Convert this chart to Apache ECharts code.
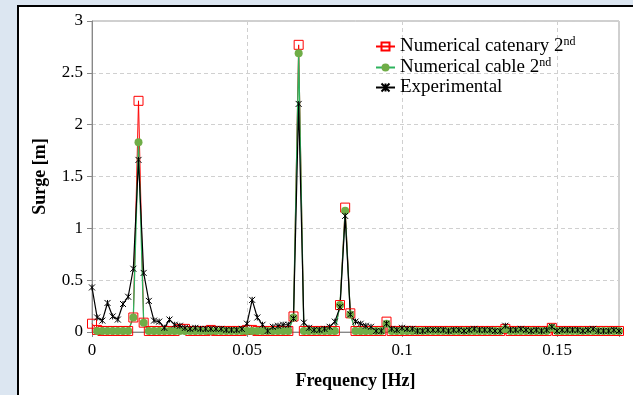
<!DOCTYPE html>
<html>
<head>
<meta charset="utf-8">
<script src="https://cdn.jsdelivr.net/npm/echarts@6/dist/echarts.min.js"></script>
<style>
html,body{margin:0;padding:0;width:633px;height:395px;overflow:hidden;background:#dce6f1;}
#panel{position:absolute;left:17px;top:5px;width:700px;height:500px;border:2px solid #000;background:#fff;}
#chart{position:absolute;left:0;top:0;width:633px;height:395px;}
</style>
</head>
<body>
<div id="panel"></div>
<div id="chart"></div>
<script>
// frequency resolution of the spectra [Hz]
const df = 1 / 600;
const xTicks = [0, 0.05, 0.1, 0.15];
const yTicks = [0, 0.5, 1, 1.5, 2, 2.5, 3];

const catenary = [
  0.08,0.02,0.01,0.01,0.01,0.01,0.01,0.01,0.14,2.23,
  0.09,0.01,0.01,0.01,0.01,0.01,0.01,0.03,0.03,0.01,
  0.01,0.01,0.01,0.02,0.01,0.01,0.01,0.01,0.01,0.01,
  0.02,0.02,0.01,0.01,0.01,0.01,0.01,0.01,0.01,0.15,
  2.77,0.01,0.01,0.01,0.01,0.01,0.01,0.01,0.26,1.20,
  0.18,0.01,0.01,0.01,0.01,0.01,0.01,0.10,0.01,0.01,
  0.01,0.01,0.01,0.01,0.01,0.01,0.01,0.01,0.01,0.01,
  0.01,0.01,0.01,0.01,0.01,0.01,0.01,0.01,0.01,0.01,
  0.03,0.01,0.01,0.01,0.01,0.01,0.01,0.01,0.01,0.04,
  0.01,0.01,0.01,0.01,0.01,0.01,0.01,0.01,0.01,0.01,
  0.01,0.01,0.01
];
const cable = [
  null,0.01,0.01,0.01,0.01,0.01,0.01,0.01,0.14,1.83,
  0.09,0.01,0.01,0.01,0.01,0.01,0.01,0.01,0.01,0.01,
  0.01,0.01,0.01,0.01,0.01,0.01,0.01,0.01,0.01,0.01,
  0.01,0.01,0.01,0.01,0.01,0.01,0.01,0.01,0.01,0.14,
  2.69,0.01,0.01,0.01,0.01,0.01,0.01,0.01,0.26,1.17,
  0.17,0.01,0.01,0.01,0.01,0.01,0.01,0.08,0.01,0.01,
  0.01,0.01,0.01,0.01,0.01,0.01,0.01,0.01,0.01,0.01,
  0.01,0.01,0.01,0.01,0.01,0.01,0.01,0.01,0.01,0.01,
  0.03,0.01,0.01,0.01,0.01,0.01,0.01,0.01,0.01,0.04,
  0.01,0.01,0.01,0.01,0.01,0.01,0.01,0.01,0.01,0.01,
  0.01,0.01,0.01
];
const experimental = [
  0.43,0.14,0.11,0.28,0.15,0.12,0.27,0.34,0.61,1.66,
  0.57,0.30,0.11,0.10,0.04,0.12,0.07,0.06,0.04,0.03,
  0.04,0.03,0.03,0.03,0.03,0.03,0.02,0.02,0.02,0.03,
  0.08,0.31,0.14,0.07,0.01,0.05,0.06,0.07,0.07,0.13,
  2.20,0.09,0.04,0.02,0.02,0.03,0.05,0.10,0.24,1.12,
  0.17,0.10,0.08,0.06,0.05,0.01,0.01,0.08,0.03,0.02,
  0.04,0.03,0.03,0.01,0.01,0.02,0.02,0.02,0.02,0.01,
  0.02,0.02,0.01,0.02,0.03,0.02,0.02,0.02,0.01,0.01,
  0.06,0.02,0.02,0.03,0.02,0.01,0.02,0.01,0.02,0.05,
  0.01,0.02,0.02,0.02,0.02,0.01,0.02,0.03,0.01,0.01,
  0.01,0.02,0.01
];
const seriesNames = ['Numerical catenary 2', 'Numerical cable 2', 'Experimental'];

const pairs = arr => arr.map((v, i) => [i * df, v]);
const font = 'Liberation Serif, Times New Roman, serif';
const starPath = 'path://M0,0L10,10M10,0L0,10M5,0L5,10';

const chart = echarts.init(document.getElementById('chart'), null, {renderer: 'canvas'});
chart.setOption({
  animation: false,
  grid: {left: 92, right: 14, top: 21, bottom: 62, show: true, borderColor: '#a0a0a0', borderWidth: 1},
  legend: {
    orient: 'vertical', left: 370, top: 31, itemGap: 1, itemWidth: 19, itemHeight: 10,
    data: seriesNames,
    formatter: n => n === 'Experimental' ? '{a|' + n + '}' : '{a|' + n + '}{s|nd}',
    textStyle: {
      fontFamily: font, fontSize: 19, color: '#000',
      rich: {
        a: {fontFamily: font, fontSize: 19, color: '#000'},
        s: {fontFamily: font, fontSize: 12, color: '#000', padding: [0, 0, 9, 0]}
      }
    }
  },
  xAxis: {
    type: 'value', min: 0, max: 0.17, interval: 0.05,
    name: 'Frequency [Hz]', nameLocation: 'middle', nameGap: 40,
    nameTextStyle: {fontFamily: font, fontSize: 18, fontWeight: 'bold', color: '#000'},
    axisLine: {show: true, lineStyle: {color: '#888'}},
    axisTick: {show: true, inside: false, length: 5, lineStyle: {color: '#888'}},
    axisLabel: {
      fontFamily: font, fontSize: 17, color: '#000', margin: 10,
      formatter: v => { const t = xTicks.find(x => Math.abs(x - v) < 1e-9); return t === undefined ? '' : String(t); }
    },
    splitLine: {show: true, lineStyle: {color: '#d0d0d0', type: [4, 3]}}
  },
  yAxis: {
    type: 'value', min: 0, max: 3, interval: 0.5,
    name: 'Surge [m]', nameLocation: 'middle', nameGap: 43,
    nameTextStyle: {fontFamily: font, fontSize: 18, fontWeight: 'bold', color: '#000'},
    axisLine: {show: true, lineStyle: {color: '#888'}},
    axisTick: {show: true, inside: false, length: 5, lineStyle: {color: '#888'}},
    axisLabel: {
      fontFamily: font, fontSize: 17, color: '#000', margin: 9,
      formatter: v => { const t = yTicks.find(y => Math.abs(y - v) < 1e-9); return t === undefined ? '' : String(t); }
    },
    splitLine: {show: true, lineStyle: {color: '#d0d0d0', type: [4, 3]}}
  },
  series: [
    {
      name: seriesNames[0], type: 'line', data: pairs(catenary),
      symbol: 'rect', symbolSize: 9, showAllSymbol: true,
      lineStyle: {color: '#ff0000', width: 1},
      itemStyle: {color: 'rgba(255,255,255,0)', borderColor: '#ff0000', borderWidth: 1}
    },
    {
      name: seriesNames[1], type: 'line', data: pairs(cable),
      symbol: 'circle', symbolSize: 8, showAllSymbol: true,
      lineStyle: {color: '#2db35d', width: 1.3},
      itemStyle: {color: '#70ad47', borderColor: '#70ad47', borderWidth: 0}
    },
    {
      name: seriesNames[2], type: 'line', data: pairs(experimental),
      symbol: starPath, symbolSize: 6, showAllSymbol: true,
      lineStyle: {color: '#000', width: 1.2},
      itemStyle: {color: '#000', borderColor: '#000', borderWidth: 1}
    }
  ]
});
</script>
</body>
</html>
